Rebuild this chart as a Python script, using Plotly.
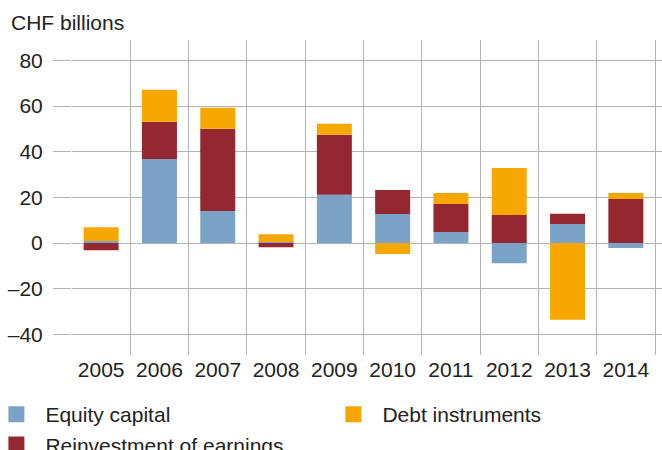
import plotly.graph_objects as go

years = ["2005", "2006", "2007", "2008", "2009", "2010", "2011", "2012", "2013", "2014"]
equity_capital = [0.9, 36.8, 14.0, 0.5, 21.2, 12.7, 4.8, -8.8, 8.4, -2.2]
reinvestment = [-3.1, 16.3, 36.0, -1.8, 26.2, 10.5, 12.3, 12.3, 4.4, 19.3]
debt_instruments = [6.0, 14.0, 9.2, 3.4, 4.8, -4.8, 4.8, 20.6, -33.6, 2.6]
y_ticks = [-40, -20, 0, 20, 40, 60, 80]

BLUE = "#7ba3c7"
RED = "#94272f"
ORANGE = "#f6a800"
GRID = "#b4b4b4"
TEXT = "#222222"
FONT = "Liberation Sans"

fig = go.Figure()

series = [
    ("Equity capital", equity_capital, BLUE),
    ("Reinvestment of earnings", reinvestment, RED),
    ("Debt instruments", debt_instruments, ORANGE),
]
for name, vals, color in series:
    fig.add_trace(go.Bar(
        x=years, y=vals, name=name, marker_color=color,
        marker_line_width=0, width=0.6, showlegend=False,
    ))

# legend swatches: first column in "legend", second column in "legend2"
legend_entries = [
    ("Equity capital", BLUE, "legend"),
    ("Reinvestment of earnings", RED, "legend"),
    ("Debt instruments", ORANGE, "legend2"),
]
for name, color, leg in legend_entries:
    fig.add_trace(go.Scatter(
        x=[None], y=[None], mode="markers", name=name,
        marker=dict(symbol="square", size=16, color=color),
        showlegend=True, legend=leg,
    ))

legend_style = dict(
    orientation="v",
    yanchor="top",
    itemwidth=48,
    font=dict(size=21, color=TEXT),
    bgcolor="rgba(0,0,0,0)",
    tracegroupgap=0,
    traceorder="normal",
)

fig.update_layout(
    width=662, height=450,
    margin=dict(l=72, r=0, t=40, b=95, autoexpand=False),
    barmode="relative",
    bargap=0.4,
    plot_bgcolor="white",
    paper_bgcolor="white",
    font=dict(family=FONT, size=21, color=TEXT),
    showlegend=True,
    legend=dict(x=-0.1434, xanchor="left", y=-0.124, **legend_style),
    legend2=dict(x=-0.1434 + 337 / 590, xanchor="left", y=-0.124, **legend_style),
    annotations=[dict(
        text="CHF billions", xref="paper", yref="paper",
        x=-63 / 590, y=1.0, xanchor="left", yanchor="bottom",
        yshift=4, showarrow=False,
        font=dict(size=21, color=TEXT),
    )],
)

fig.update_xaxes(
    type="category",
    range=[-0.5, 9.62],
    tickson="boundaries",
    showgrid=True, gridcolor=GRID, gridwidth=1,
    ticks="", showline=False, zeroline=False,
    tickfont=dict(size=21, color=TEXT),
)
fig.update_yaxes(
    range=[-49.0, 88.9],
    tickvals=y_ticks,
    ticktext=[("\u2013" + str(-v)) if v < 0 else str(v) for v in y_ticks],
    showgrid=True, gridcolor=GRID, gridwidth=1,
    zeroline=True, zerolinecolor=GRID, zerolinewidth=1,
    ticks="outside", ticklen=18, tickcolor=GRID, tickwidth=1,
    ticklabelstandoff=6,
    showline=False,
    tickfont=dict(size=21, color=TEXT),
)

fig.write_html("out.html")
